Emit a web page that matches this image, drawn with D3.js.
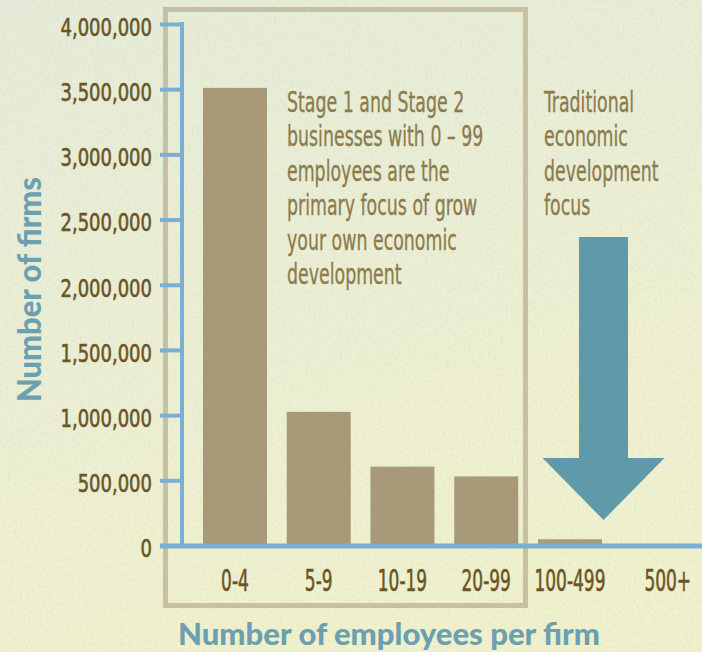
<!DOCTYPE html>
<html>
<head>
<meta charset="utf-8">
<script src="https://cdn.jsdelivr.net/npm/d3@7"></script>
<style>
  html, body { margin: 0; padding: 0; background: #eaeed2; }
  svg { display: block; }
</style>
</head>
<body>
<svg id="chart"></svg>
<script>
// Firms by number of employees (bar chart with annotation box + arrow)
const categories = ["0-4", "5-9", "10-19", "20-99", "100-499", "500+"];
const firms = [3510000, 1025000, 605000, 530000, 48000, 12000];
const yTicks = [0, 500000, 1000000, 1500000, 2000000, 2500000, 3000000, 3500000, 4000000];
const stageNote = ["Stage 1 and Stage 2", "businesses with 0 \u2013 99", "employees are the",
  "primary focus of grow", "your own economic", "development"];
const tradNote = ["Traditional", "economic", "development", "focus"];

(function () {
  const W = 702, H = 652;
  const narrow = "'Liberation Sans Narrow', 'DejaVu Sans Condensed', 'Noto Sans', sans-serif";
  const svg = d3.select("#chart").attr("width", W).attr("height", H);
  const defs = svg.append("defs");

  // paper-ish background
  const bg = defs.append("linearGradient").attr("id", "bg").attr("x1", 0).attr("y1", 0).attr("x2", 0.3).attr("y2", 1);
  bg.append("stop").attr("offset", "0%").attr("stop-color", "#e6ecd9");
  bg.append("stop").attr("offset", "55%").attr("stop-color", "#ecefd4");
  bg.append("stop").attr("offset", "100%").attr("stop-color", "#f1f1cd");
  const f = defs.append("filter").attr("id", "grain").attr("x", 0).attr("y", 0).attr("width", 1).attr("height", 1);
  f.append("feTurbulence").attr("type", "fractalNoise").attr("baseFrequency", 0.35).attr("numOctaves", 3).attr("seed", 4);
  f.append("feColorMatrix").attr("type", "matrix")
    .attr("values", "0 0 0 0 0.55  0 0 0 0 0.62  0 0 0 0 0.45  0 0 0 0.9 -0.35");
  f.append("feComposite").attr("in2", "SourceGraphic").attr("operator", "in");

  svg.append("rect").attr("width", W).attr("height", H).attr("fill", "url(#bg)");
  svg.append("rect").attr("width", W).attr("height", H).attr("fill", "#fff").attr("filter", "url(#grain)").attr("opacity", 0.5);

  const x = d3.scaleBand().domain(categories).range([193.1, 695.6])
    .paddingInner(0.236).paddingOuter(0.118);
  const y = d3.scaleLinear().domain([0, 4000000]).range([545.5, 24]);

  // focus box around 0-99
  svg.append("rect")
    .attr("x", 165.5).attr("y", 9.5).attr("width", 360).attr("height", 596)
    .attr("fill", "none").attr("stroke", "#b8ad8e").attr("stroke-opacity", 0.7).attr("stroke-width", 5);

  // bars
  svg.append("g").selectAll("rect")
    .data(categories.map((c, i) => ({ c, v: firms[i] })))
    .join("rect")
    .attr("x", d => x(d.c))
    .attr("width", x.bandwidth())
    .attr("y", d => y(d.v))
    .attr("height", d => y(0) - y(d.v))
    .attr("fill", "#a89a78");

  // y axis
  const ys = 0.8;
  const gy = svg.append("g").attr("transform", "translate(182,0)")
    .call(d3.axisLeft(y).tickValues(yTicks).tickFormat(d3.format(",")).tickSize(22).tickPadding(8));
  gy.select(".domain").remove();
  gy.selectAll(".tick line").attr("stroke", "#7aaed2").attr("stroke-width", 4);
  gy.selectAll(".tick text")
    .attr("font-family", narrow).attr("font-size", 25).attr("fill", "#6b5526")
    .attr("stroke", "#6b5526").attr("stroke-width", 0.6).attr("dy", "0.45em")
    .attr("x", -30 / ys).attr("transform", `scale(${ys},1)`);
  svg.append("line").attr("x1", 182).attr("x2", 182).attr("y1", 22).attr("y2", 548)
    .attr("stroke", "#7aaed2").attr("stroke-width", 4);

  // x axis
  const xs = 0.63;
  const gx = svg.append("g").attr("transform", "translate(0,546)")
    .call(d3.axisBottom(x).tickSize(0).tickPadding(45));
  gx.select(".domain").remove();
  gx.selectAll(".tick text")
    .attr("font-family", narrow).attr("font-size", 30).attr("fill", "#6b5526")
    .attr("stroke", "#6b5526").attr("stroke-width", 0.6)
    .attr("dy", 0)
    .attr("transform", `scale(${xs},1)`)
    .attr("x", (d, i) => i === categories.length - 1 ? 14 / xs : 0);
  svg.append("line").attr("x1", 160).attr("x2", W).attr("y1", 546).attr("y2", 546)
    .attr("stroke", "#7aaed2").attr("stroke-width", 5);

  // arrow (traditional focus)
  const ax = 603.5, top = 237, neck = 458, tip = 520, sw = 24.5, hw = 61;
  svg.append("path")
    .attr("d", `M${ax - sw},${top}H${ax + sw}V${neck}H${ax + hw}L${ax},${tip}L${ax - hw},${neck}H${ax - sw}Z`)
    .attr("fill", "#5f9aab");

  // annotations
  function note(lines, tx, ty) {
    svg.append("g").attr("transform", `translate(${tx},${ty}) scale(0.69,1)`)
      .selectAll("text").data(lines).join("text")
      .attr("y", (d, i) => i * 34.5)
      .attr("font-family", narrow).attr("font-size", 28).attr("fill", "#8b7b4d")
      .attr("stroke", "#8b7b4d").attr("stroke-width", 0.3)
      .text(d => d);
  }
  note(stageNote, 287, 111.7);
  note(tradNote, 544, 111.7);

  // axis titles
  svg.append("text")
    .attr("transform", "translate(41,289.5) rotate(-90)")
    .attr("text-anchor", "middle")
    .attr("font-family", "Lato, 'Noto Sans', sans-serif").attr("font-weight", 900).attr("font-size", 32)
    .attr("textLength", 225).attr("lengthAdjust", "spacingAndGlyphs")
    .attr("fill", "#6ba0b1")
    .text("Number of firms");
  svg.append("text")
    .attr("x", 389).attr("y", 645)
    .attr("text-anchor", "middle")
    .attr("font-family", "Lato, 'Noto Sans', sans-serif").attr("font-weight", 900).attr("font-size", 30)
    .attr("textLength", 422).attr("lengthAdjust", "spacingAndGlyphs")
    .attr("fill", "#6ba0b1")
    .text("Number of employees per firm");
})();
</script>
</body>
</html>
